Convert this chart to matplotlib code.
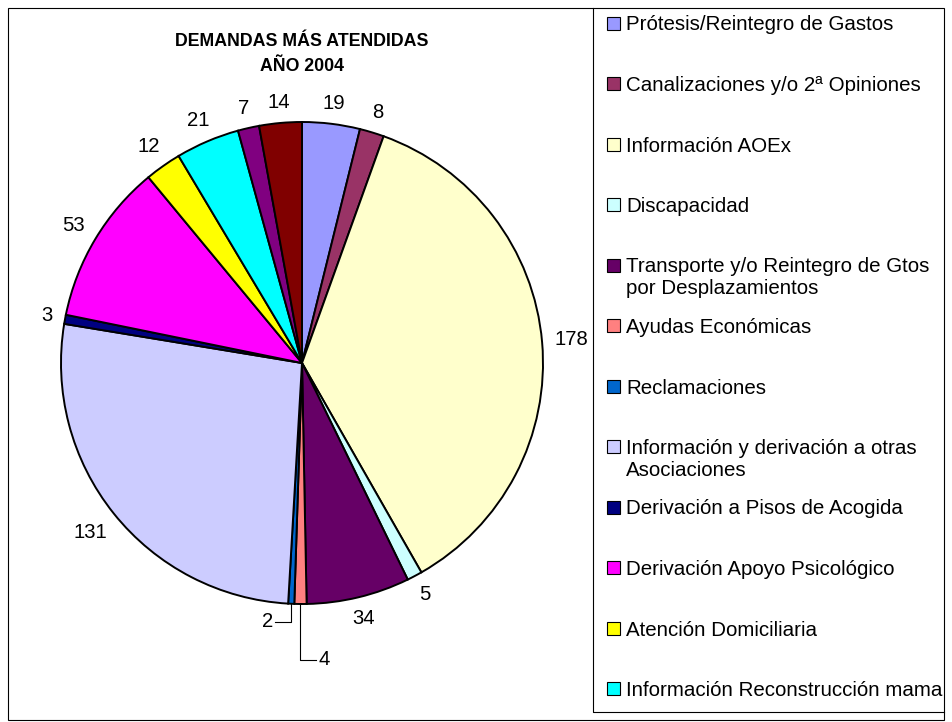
import numpy as np
import matplotlib
matplotlib.use("Agg")
import matplotlib.pyplot as plt
from matplotlib.patches import Rectangle

plt.rcParams['font.family'] = ['Liberation Sans', 'DejaVu Sans']

title = "DEMANDAS MÁS ATENDIDAS\nAÑO 2004"

# slices clockwise from 12 o'clock
values = [19, 8, 178, 5, 34, 4, 2, 131, 3, 53, 12, 21, 7, 14]
colors = ["#9999FF", "#993366", "#FFFFCC", "#CCFFFF", "#660066", "#FF8080",
          "#0066CC", "#CCCCFF", "#000080", "#FF00FF", "#FFFF00", "#00FFFF",
          "#800080", "#800000"]
# only the first 12 entries fit in the legend of the original
legend_labels = ["Prótesis/Reintegro de Gastos",
                 "Canalizaciones y/o 2ª Opiniones",
                 "Información AOEx",
                 "Discapacidad",
                 "Transporte y/o Reintegro de Gtos\npor Desplazamientos",
                 "Ayudas Económicas",
                 "Reclamaciones",
                 "Información y derivación a otras\nAsociaciones",
                 "Derivación a Pisos de Acogida",
                 "Derivación Apoyo Psicológico",
                 "Atención Domiciliaria",
                 "Información Reconstrucción mama"]

W, H = 952, 722
fig = plt.figure(figsize=(W / 100, H / 100), dpi=100)

# background axes in pixel coords for frame, title, legend
bg = fig.add_axes([0, 0, 1, 1])
bg.set_xlim(0, W)
bg.set_ylim(H, 0)
bg.axis('off')

# pie: center (302, 363), radius 241 px
cx, cy, R = 302, 363, 241
ax = fig.add_axes([(cx - R) / W, (H - cy - R) / H, 2 * R / W, 2 * R / H])
wedges, _ = ax.pie(values, colors=colors, startangle=90, counterclock=False,
                   radius=1, wedgeprops=dict(edgecolor='black', linewidth=1.4))
ax.set_xlim(-1, 1)
ax.set_ylim(-1, 1)
ax.set_aspect('equal')
ax.axis('off')

lab_size = 14.6
px = 1.0 / R
gap = 12 * px
leader = {5: (16, 56), 6: (-16, 18)}  # px offsets for the tiny slices
for i, (w, v) in enumerate(zip(wedges, values)):
    mid = np.deg2rad((w.theta1 + w.theta2) / 2)
    dx, dy = np.cos(mid), np.sin(mid)
    s = str(v)
    if i in leader:
        ox, oy = leader[i]
        x0, y0 = dx, dy
        x1, y1 = x0, y0 - oy * px
        x2 = x1 + ox * px
        ax.plot([x0, x1, x2], [y0, y1, y1], color='black', lw=0.8,
                clip_on=False)
        ax.text(x2 + np.sign(ox) * 2 * px, y1, s, fontsize=lab_size,
                ha='left' if ox > 0 else 'right', va='center', clip_on=False)
        continue
    tw = 11.3 * len(s) * px
    th = 14.5 * px
    r = 1 + gap + abs(dx) * tw / 2 + abs(dy) * th / 2
    ax.text(r * dx, r * dy, s, fontsize=lab_size, ha='center', va='center',
            clip_on=False)

# frames
bg.add_patch(Rectangle((8, 8), 936, 712, fill=False, edgecolor='black', lw=0.8))
bg.plot([593, 593, 944], [8, 712, 712], color='black', lw=0.8)

# title
bg.text(302, 54, title, fontsize=12.8, fontweight='bold', ha='center',
        va='center', linespacing=1.65)

# legend
step = 60.5
for i, lab in enumerate(legend_labels):
    yc = 23 + i * step
    bg.add_patch(Rectangle((607, yc - 6.5), 13, 13, facecolor=colors[i],
                           edgecolor='black', lw=0.8))
    for j, line in enumerate(lab.split("\n")):
        bg.text(626, yc + 7.5 + j * 22, line, fontsize=14.8, ha='left',
                va='baseline')

fig.savefig("out.png", dpi=100)
